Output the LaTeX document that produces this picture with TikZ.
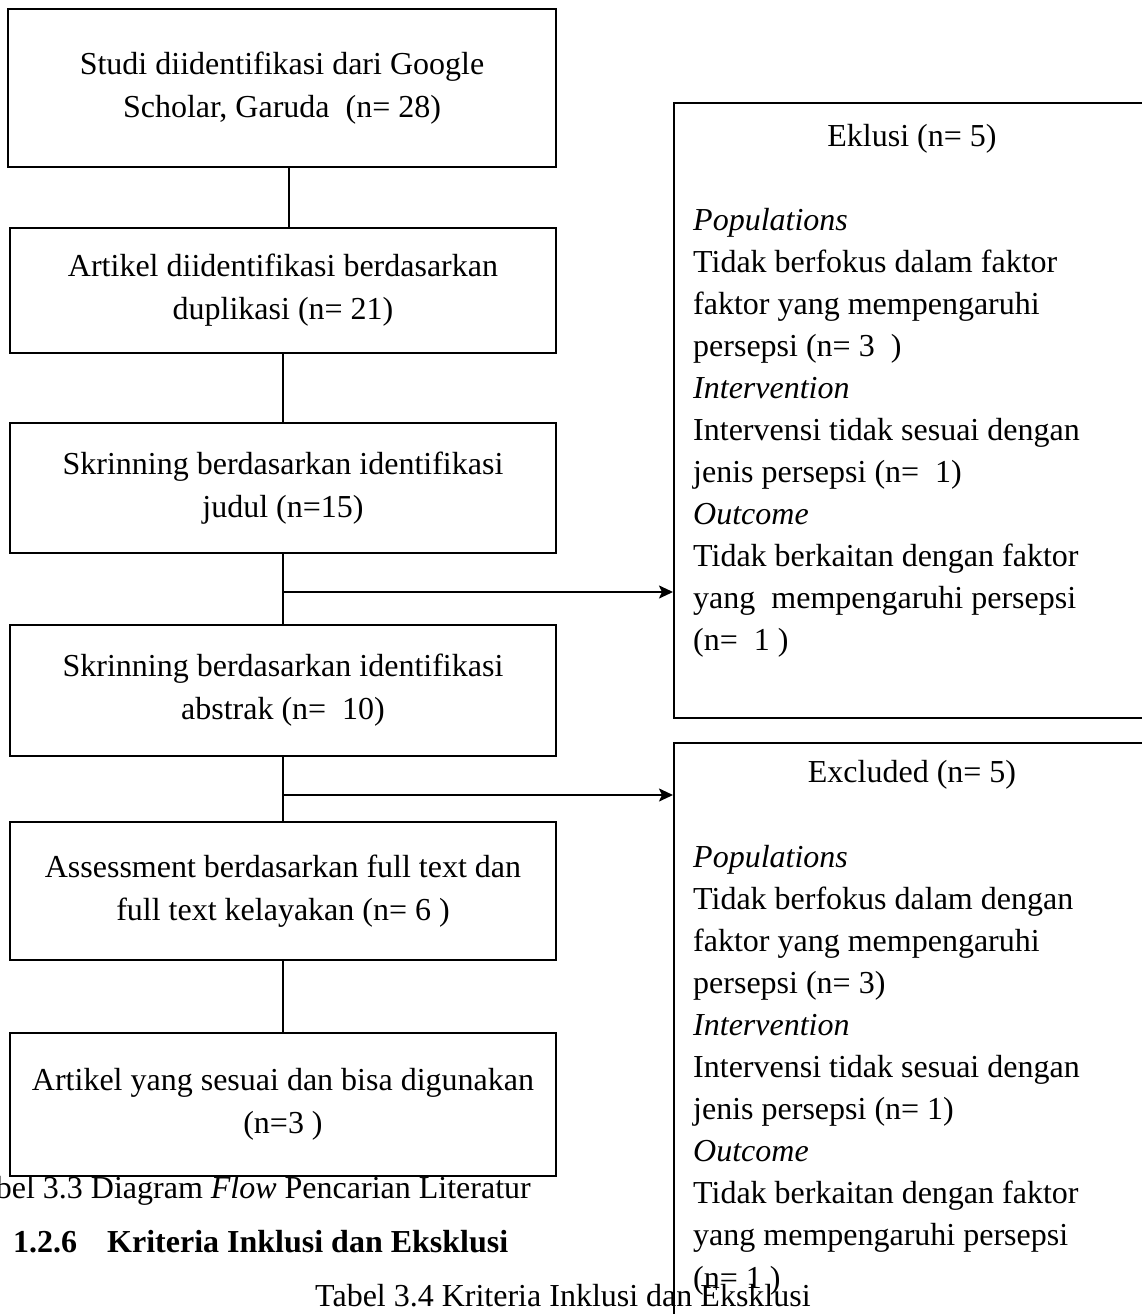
\documentclass[tikz,border=0pt]{standalone}
\usepackage{fontspec}
\setmainfont{Liberation Serif}
\usetikzlibrary{arrows.meta}
\tikzset{
  lbox/.style={draw, line width=1.6pt, minimum width=546pt, align=center, inner sep=0pt,
    font=\fontsize{32}{43}\selectfont},
  rbox/.style={draw, line width=1.6pt, anchor=north west, inner sep=0pt},
  rtext/.style={anchor=base west, inner sep=0pt, font=\fontsize{32}{42}\selectfont},
  rtitle/.style={anchor=base, inner sep=0pt, font=\fontsize{32}{42}\selectfont},
  link/.style={line width=1.5pt},
  arr/.style={line width=2pt, -{Stealth[length=14pt,width=13pt,inset=3pt]}},
  capt/.style={inner sep=0pt, font=\fontsize{32}{40}\selectfont}
}
\begin{document}
\begin{tikzpicture}[x=1pt,y=1pt]
\useasboundingbox (0,0) rectangle (1142,-1314);
\clip (0,0) rectangle (1142,-1314);
% left flow boxes
\node[lbox, minimum width=548pt, minimum height=158pt] (b1) at (282,-88) {Studi diidentifikasi dari Google\\Scholar, Garuda~~(n= 28)};
\node[lbox, minimum height=125pt] (b2) at (283,-290.5) {Artikel diidentifikasi berdasarkan\\duplikasi (n= 21)};
\node[lbox, minimum height=130pt] (b3) at (283,-488) {Skrinning berdasarkan identifikasi\\judul (n=15)};
\node[lbox, minimum height=131pt] (b4) at (283,-690.5) {Skrinning berdasarkan identifikasi\\abstrak (n=~ 10)};
\node[lbox, minimum height=138pt] (b5) at (283,-891) {Assessment berdasarkan full text dan\\full text kelayakan (n= 6 )};
\node[lbox, minimum height=143pt] (b6) at (283,-1104.5) {Artikel yang sesuai dan bisa digunakan\\(n=3 )};
% connectors
\draw[link] ([xshift=7pt]b1.south) -- ([xshift=6pt]b2.north);
\draw[link] (b2.south) -- (b3.north);
\draw[link] (b3.south) -- (b4.north);
\draw[link] (b4.south) -- (b5.north);
\draw[link] (b5.south) -- (b6.north);
% right exclusion boxes
\node[rbox, minimum width=477pt, minimum height=615pt] (ex1) at (673,-102) {};
\node[rbox, minimum width=477pt, minimum height=600pt] (ex2) at (673,-742) {};
\coordinate (a1) at (284,-592);
\coordinate (a2) at (283,-795);
\draw[arr] (a1) -- (a1 -| ex1.west);
\draw[arr] (a2) -- (a2 -| ex2.west);
% texts of box 1
\node[rtitle] (t1) at (912,-146) {Eklusi (n= 5)};
\foreach \yy/\txt [count=\i] in {
  230/{\textit{Populations}},
  272/{Tidak berfokus dalam faktor},
  314/{faktor yang mempengaruhi},
  356/{persepsi (n= 3~~)},
  398/{\textit{Intervention}},
  440/{Intervensi tidak sesuai dengan},
  482/{jenis persepsi (n=~ 1)},
  524/{\textit{Outcome}},
  566/{Tidak berkaitan dengan faktor},
  608/{yang~ mempengaruhi persepsi},
  650/{(n=~ 1 )}}
  \node[rtext] (p\i) at (693,-\yy) {\txt};
% texts of box 2
\node[rtitle] (t2) at (912,-782) {Excluded (n= 5)};
\foreach \yy/\txt [count=\i] in {
  867/{\textit{Populations}},
  909/{Tidak berfokus dalam dengan},
  951/{faktor yang mempengaruhi},
  993/{persepsi (n= 3)},
  1035/{\textit{Intervention}},
  1077/{Intervensi tidak sesuai dengan},
  1119/{jenis persepsi (n= 1)},
  1161/{\textit{Outcome}},
  1203/{Tidak berkaitan dengan faktor},
  1245/{yang mempengaruhi persepsi},
  1288/{(n= 1 )}}
  \node[rtext] (q\i) at (693,-\yy) {\txt};
% captions
\node[capt, anchor=base east] (c1) at (531,-1198) {Tabel 3.3 Diagram \textit{Flow} Pencarian Literatur};
\node[capt, anchor=base west] (c2) at (13,-1252) {\textbf{1.2.6}};
\node[capt, anchor=base west] (c3) at (107,-1252) {\textbf{Kriteria Inklusi dan Eksklusi}};
\node[capt, anchor=base west] (c4) at (315,-1306) {Tabel 3.4 Kriteria Inklusi dan Eksklusi};
\end{tikzpicture}
\end{document}
